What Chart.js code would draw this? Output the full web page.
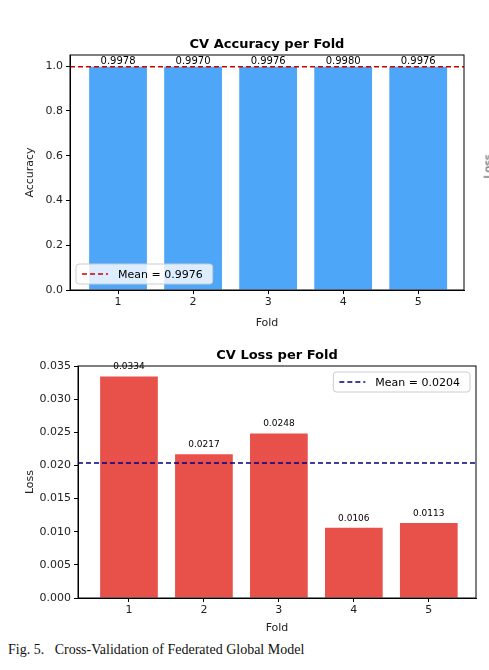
<!DOCTYPE html>
<html><head><meta charset="utf-8">
<script src="https://cdn.jsdelivr.net/npm/chart.js@4.4.0/dist/chart.umd.min.js"></script>
<style>
body{margin:0;background:#fff;width:489px;height:670px;overflow:hidden;position:relative}
.c{position:absolute;left:0;width:489px}
#cap{position:absolute;left:8px;top:642px;font:14px "Liberation Serif",serif;color:#111;white-space:pre}
#cut{position:absolute;left:476px;top:160px;font:11px "DejaVu Sans";transform:rotate(-90deg);color:#444}
</style></head><body>
<div class="c" style="top:0;height:330px"><canvas id="a"></canvas></div>
<div class="c" style="top:330px;height:305px"><canvas id="b"></canvas></div>
<div id="cut">Loss</div>
<div id="cap">Fig. 5.   Cross-Validation of Federated Global Model</div>
<script>
const folds=[1,2,3,4,5];
const accuracy=[0.9978,0.9970,0.9976,0.9980,0.9976];
const loss=[0.0334,0.0217,0.0248,0.0106,0.0113];
const accTicks=[0,0.2,0.4,0.6,0.8,1.0];
const lossTicks=[0,0.005,0.010,0.015,0.020,0.025,0.030,0.035];
const mean=a=>a.reduce((s,v)=>s+v,0)/a.length;
const F='"DejaVu Sans"';
function make(id,vals,ticks,cfg){
  const m=mean(vals);
  const plug={id:'x'+id,afterDatasetsDraw(ch){
    const c=ch.ctx,a=ch.chartArea;
    c.save();c.strokeStyle='#000';c.lineWidth=1;c.strokeRect(a.left,a.top,a.right-a.left,a.bottom-a.top);
    c.fillStyle='#000';c.font='bold 13px '+F;c.textAlign='center';c.textBaseline='bottom';
    c.fillText(cfg.title,(a.left+a.right)/2,a.top-4);
    c.font=cfg.lblFont+'px '+F;
    const meta=ch.getDatasetMeta(0);
    meta.data.forEach((el,i)=>c.fillText(vals[i].toFixed(4),el.x,el.y-cfg.lblOff));
    c.font='11px '+F;c.textBaseline='middle';c.textAlign='left';
    const txt='Mean = '+m.toFixed(4);const tw=c.measureText(txt).width;
    const w=tw+52,h=20;let x,y;
    if(cfg.legRight){x=a.right-w-6;y=a.top+6}else{x=a.left+6;y=a.bottom-h-6}
    c.fillStyle='rgba(255,255,255,0.8)';c.strokeStyle='#ccc';c.beginPath();c.roundRect(x,y,w,h,3);c.fill();c.stroke();
    c.strokeStyle=cfg.mc;c.lineWidth=1.6;c.setLineDash([5,3]);c.beginPath();c.moveTo(x+6,y+h/2);c.lineTo(x+32,y+h/2);c.stroke();c.setLineDash([]);
    c.fillStyle='#000';c.fillText(txt,x+42,y+h/2+1);
    c.restore();
  }};
  new Chart(document.getElementById(id),{
    data:{datasets:[
      {type:'bar',data:folds.map((f,i)=>({x:f,y:vals[i]})),backgroundColor:cfg.bc,barPercentage:0.77,categoryPercentage:1,order:2},
      {type:'line',data:[{x:cfg.xmin,y:m},{x:cfg.xmax,y:m}],borderColor:cfg.mc,borderDash:[5,3],borderWidth:1.6,pointRadius:0,order:1}
    ]},
    options:{animation:false,responsive:true,maintainAspectRatio:false,
      layout:{padding:{top:cfg.pt,right:cfg.pr,left:cfg.pl,bottom:0}},
      plugins:{legend:{display:false},tooltip:{enabled:false}},
      scales:{
        x:{type:'linear',offset:false,min:cfg.xmin,max:cfg.xmax,afterBuildTicks:s=>{s.ticks=folds.map(v=>({value:v}))},
          afterFit:s=>{s.height=cfg.xh},
          grid:{offset:false,drawOnChartArea:false,drawTicks:true,tickLength:4,color:'#000'},border:{color:'#000'},
          ticks:{color:'#222',font:{family:F,size:11},padding:2},
          title:{display:true,text:'Fold',color:'#222',font:{family:F,size:11},padding:{top:0,bottom:0}}},
        y:{min:0,max:cfg.ymax,afterBuildTicks:s=>{s.ticks=ticks.map(v=>({value:v}))},
          afterFit:s=>{s.width=cfg.yw},
          grid:{drawOnChartArea:false,drawTicks:true,tickLength:4,color:'#000'},border:{color:'#000'},
          ticks:{color:'#222',font:{family:F,size:11},callback:v=>v.toFixed(cfg.dec),padding:3},
          title:{display:true,text:cfg.yl,color:'#222',font:{family:F,size:11},padding:0}}
      }},
    plugins:[plug]});
}
make('a',accuracy,accTicks,{title:'CV Accuracy per Fold',bc:'#4da6f7',mc:'#cc0000',xmin:0.36,xmax:5.61,ymax:1.05,pt:55,pr:25,pl:24,xh:40,yw:46,dec:1,yl:'Accuracy',lblFont:10,lblOff:0,legRight:false});
make('b',loss,lossTicks,{title:'CV Loss per Fold',bc:'#e8504a',mc:'#000080',xmin:0.32,xmax:5.63,ymax:0.035,pt:36,pr:13,pl:24,xh:37,yw:54,dec:3,yl:'Loss',lblFont:9,lblOff:5,legRight:true});
</script></body></html>
